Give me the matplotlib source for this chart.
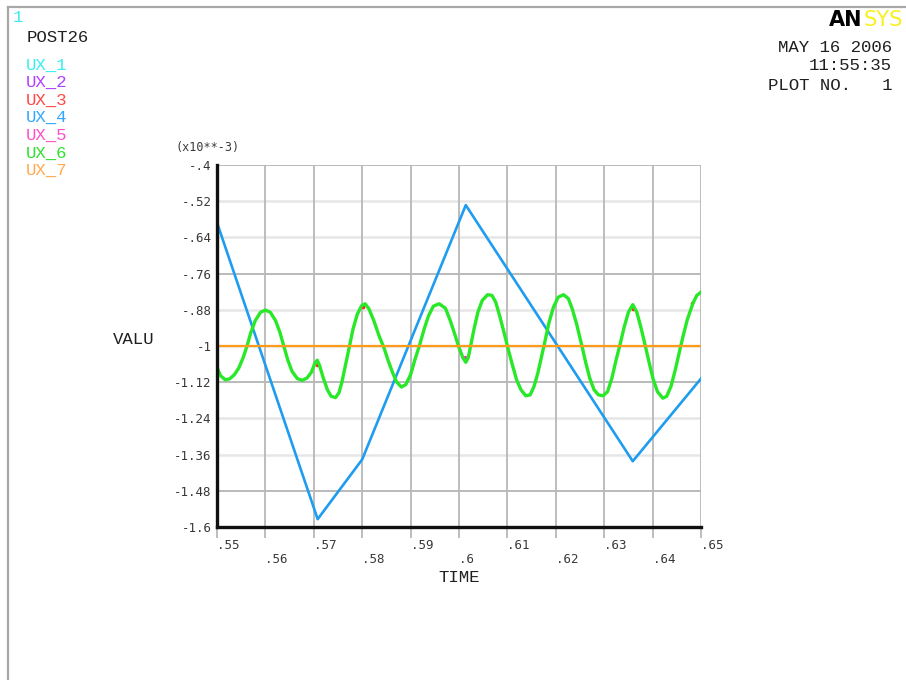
import matplotlib
matplotlib.use("Agg")
import matplotlib.pyplot as plt
from matplotlib.lines import Line2D

# ---- data (values shown in units of 1e-3) ----
time_ticks = [0.55, 0.56, 0.57, 0.58, 0.59, 0.60, 0.61, 0.62, 0.63, 0.64, 0.65]
time_labels = [".55", ".56", ".57", ".58", ".59", ".6", ".61", ".62", ".63", ".64", ".65"]
valu_ticks = [-0.4, -0.52, -0.64, -0.76, -0.88, -1.0, -1.12, -1.24, -1.36, -1.48, -1.6]
valu_labels = ["-.4", "-.52", "-.64", "-.76", "-.88", "-1", "-1.12", "-1.24", "-1.36", "-1.48", "-1.6"]

series_names = ["UX_1", "UX_2", "UX_3", "UX_4", "UX_5", "UX_6", "UX_7"]

# UX_4
ux4_t = [0.5500, 0.5708, 0.5800, 0.6014, 0.6359, 0.6500]
ux4_v = [-0.591, -1.574, -1.376, -0.533, -1.382, -1.108]

# UX_6 (UX_1, UX_2 coincide with it)
ux6_t = [0.5500, 0.5507, 0.5517, 0.5526, 0.5536, 0.5545, 0.5554, 0.5562, 0.5570, 0.5579,
         0.5590, 0.5600, 0.5610, 0.5621, 0.5630, 0.5638, 0.5646, 0.5655, 0.5666, 0.5676,
         0.5686, 0.5695, 0.5702, 0.5707, 0.5712, 0.5719, 0.5728, 0.5736, 0.5745, 0.5752,
         0.5758, 0.5765, 0.5773, 0.5781, 0.5790, 0.5799, 0.5806, 0.5814, 0.5824, 0.5835,
         0.5845, 0.5854, 0.5863, 0.5871, 0.5881, 0.5890, 0.5900, 0.5909, 0.5918, 0.5928,
         0.5937, 0.5947, 0.5959, 0.5972, 0.5982, 0.5990, 0.5999, 0.6008, 0.6014, 0.6019,
         0.6024, 0.6031, 0.6039, 0.6048, 0.6059, 0.6068, 0.6076, 0.6084, 0.6093, 0.6101,
         0.6110, 0.6119, 0.6128, 0.6138, 0.6147, 0.6155, 0.6163, 0.6170, 0.6177, 0.6186,
         0.6195, 0.6205, 0.6216, 0.6226, 0.6234, 0.6243, 0.6254, 0.6262, 0.6270, 0.6279,
         0.6288, 0.6298, 0.6307, 0.6316, 0.6324, 0.6332, 0.6341, 0.6350, 0.6359, 0.6367,
         0.6376, 0.6385, 0.6393, 0.6401, 0.6410, 0.6421, 0.6429, 0.6438, 0.6447, 0.6455,
         0.6463, 0.6472, 0.6483, 0.6491, 0.6500]
ux6_v = [-1.070, -1.098, -1.112, -1.109, -1.095, -1.073, -1.039, -1.000, -0.955, -0.916,
         -0.888, -0.881, -0.888, -0.916, -0.955, -1.000, -1.045, -1.084, -1.108, -1.114,
         -1.106, -1.087, -1.058, -1.047, -1.065, -1.103, -1.145, -1.167, -1.171, -1.155,
         -1.120, -1.067, -1.006, -0.944, -0.894, -0.866, -0.860, -0.877, -0.916, -0.967,
         -1.006, -1.050, -1.089, -1.119, -1.136, -1.128, -1.095, -1.045, -1.000, -0.944,
         -0.900, -0.868, -0.860, -0.875, -0.916, -0.955, -1.000, -1.039, -1.054, -1.039,
         -1.000, -0.944, -0.888, -0.849, -0.830, -0.832, -0.855, -0.900, -0.955, -1.006,
         -1.061, -1.112, -1.145, -1.165, -1.162, -1.134, -1.089, -1.039, -0.989, -0.922,
         -0.872, -0.838, -0.830, -0.843, -0.877, -0.927, -1.000, -1.056, -1.106, -1.145,
         -1.162, -1.165, -1.151, -1.106, -1.050, -1.000, -0.939, -0.888, -0.863, -0.886,
         -0.939, -1.000, -1.056, -1.109, -1.151, -1.173, -1.167, -1.134, -1.078, -1.022,
         -0.967, -0.911, -0.860, -0.833, -0.821]

# points where UX_3 and UX_5 separate from UX_6
ux3_t = [0.5706, 0.5802, 0.6360, 0.6481]
ux3_v = [-1.064, -0.872, -0.877, -0.856]
ux5_t = [0.6013]
ux5_v = [-1.036]

# UX_7
ux7_t = [0.55, 0.65]
ux7_v = [-1.0, -1.0]

# ---- styling ----
text_colors = ["#38f0f0", "#b040ff", "#ff4848", "#30a8ff", "#ff50c8", "#30e030", "#ffaa50"]
c_blue = "#1e9cf0"
c_green = "#28e828"
c_orange = "#ff9a1a"
c_red = "#ff2020"
c_magenta = "#ff30c0"
mono = "Liberation Mono"
tickfont = "DejaVu Sans Mono"

W, H = 906, 680
fig = plt.figure(figsize=(W / 100, H / 100), dpi=100)
fig.patch.set_facecolor("white")


def fx(px):
    return px / W


def fy(py):
    return 1 - py / H


# outer frame of the window
fig.add_artist(Line2D([fx(8), 1.0], [fy(7), fy(7)], color="#a8a8a8", lw=1.6))
fig.add_artist(Line2D([fx(8), fx(8)], [fy(7), 0.0], color="#a8a8a8", lw=1.6))

# plot area
ax_l, ax_r, ax_t, ax_b = 217, 701, 165, 527
ax = fig.add_axes([fx(ax_l), fy(ax_b), (ax_r - ax_l) / W, (ax_b - ax_t) / H])
ax.set_xlim(0.55, 0.65)
ax.set_ylim(-1.6, -0.4)
ax.set_facecolor("white")

# horizontal grid: every third line darker
for i, v in enumerate(valu_ticks):
    dark = i % 3 == 0
    ax.axhline(v, color="#b4b4b4" if dark else "#e6e6e6", lw=1.3 if dark else 1.8, zorder=1)
# vertical grid
for t in time_ticks[1:]:
    ax.axvline(t, color="#b8b8b8", lw=1.3, zorder=1)

ax.set_xticks(time_ticks)
ax.set_xticklabels([])
ax.tick_params(axis="x", length=8, width=1.3, color="#b8b8b8", direction="out")
ax.set_yticks(valu_ticks)
ax.set_yticklabels(valu_labels, fontfamily=tickfont, fontsize=9, color="#383838")
ax.tick_params(axis="y", length=0, pad=4)

for side in ("top", "right"):
    ax.spines[side].set_visible(False)
for side in ("left", "bottom"):
    ax.spines[side].set_color("#101010")
    ax.spines[side].set_linewidth(2.4)
    ax.spines[side].set_zorder(6)

# x tick labels staggered on two rows
for i, (t, lab) in enumerate(zip(time_ticks, time_labels)):
    ypos = -0.050 if i % 2 == 0 else -0.089
    ax.text(t, ypos, lab, transform=ax.get_xaxis_transform(), ha="left", va="center",
            fontfamily=tickfont, fontsize=9, color="#383838")

# curves, drawn in series order
ax.plot(ux6_t, ux6_v, color=text_colors[0], lw=1.0, zorder=2)   # UX_1
ax.plot(ux6_t, ux6_v, color=text_colors[1], lw=1.0, zorder=2)   # UX_2
ax.plot(ux3_t, ux3_v, "o", color=c_red, ms=2.6, mew=0, zorder=2)  # UX_3
ax.plot(ux4_t, ux4_v, color=c_blue, lw=1.9, zorder=3)            # UX_4
ax.plot(ux5_t, ux5_v, "o", color=c_magenta, ms=2.6, mew=0, zorder=3)  # UX_5
ax.plot(ux6_t, ux6_v, color=c_green, lw=2.4, zorder=4)           # UX_6
ax.plot(ux7_t, ux7_v, color=c_orange, lw=1.6, zorder=5)          # UX_7

# axis titles
fig.text(fx(208), fy(147), "(x10**-3)", ha="center", va="center",
         fontfamily=tickfont, fontsize=8.5, color="#383838")
fig.text(fx(134), fy(340), "VALU", ha="center", va="center", fontfamily=mono,
         fontsize=12.5, color="#202020")
fig.text(fx(459), fy(577), "TIME", ha="center", va="center", fontfamily=mono,
         fontsize=12.5, color="#202020")

# header: window number, title, legend
fig.text(fx(13), fy(18), "1", ha="left", va="center", fontfamily=mono,
         fontsize=12.5, color="#40e8f0")
fig.text(fx(27), fy(37), "POST26", ha="left", va="center", fontfamily=mono,
         fontsize=12.5, color="#202020")
for i, (name, col) in enumerate(zip(series_names, text_colors)):
    fig.text(fx(26), fy(65 + i * 17.6), name, ha="left", va="center", fontfamily=mono,
             fontsize=12.5, color=col)

# logo and date stamp
fig.text(fx(829), fy(20), "AN", ha="left", va="center", fontfamily="DejaVu Sans",
         fontweight="bold", fontsize=15, color="black")
fig.text(fx(864), fy(20), "SYS", ha="left", va="center", fontfamily="DejaVu Sans",
         fontsize=15, color="#f8f020")
fig.text(fx(892), fy(48), "MAY 16 2006", ha="right", va="center", fontfamily=mono,
         fontsize=12.5, color="#202020")
fig.text(fx(892), fy(66), "11:55:35", ha="right", va="center", fontfamily=mono,
         fontsize=12.5, color="#202020")
fig.text(fx(892), fy(85), "PLOT NO.   1", ha="right", va="center", fontfamily=mono,
         fontsize=12.5, color="#202020")

fig.savefig("out.png", dpi=100)
